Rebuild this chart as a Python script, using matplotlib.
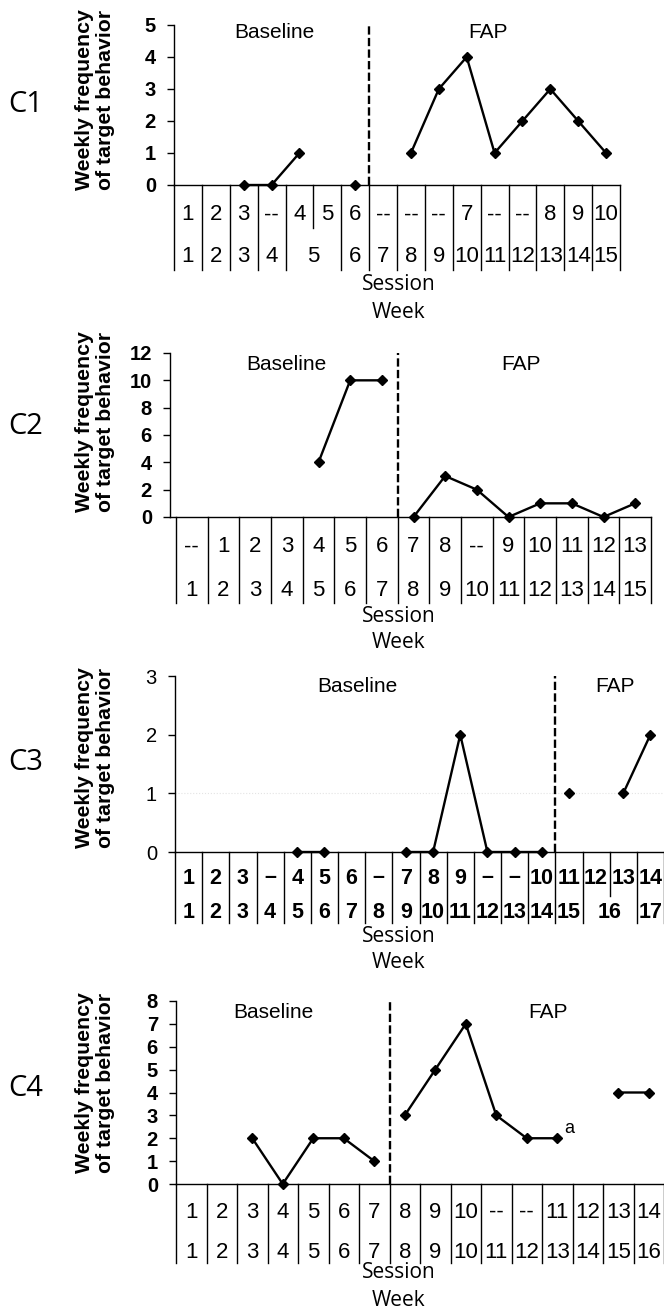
import numpy as np
import matplotlib
matplotlib.use('Agg')
import matplotlib.pyplot as plt

plt.rcParams['font.family'] = ['Liberation Sans', 'DejaVu Sans']

nan = np.nan

# ---- data ----
c1_session = ['1', '2', '3', '--', '4', '5', '6', '--', '--', '--', '7', '--', '--', '8', '9', '10']
c1_week = ['1', '2', '3', '4', '5', '6', '7', '8', '9', '10', '11', '12', '13', '14', '15']
c1_week_span = [1, 1, 1, 1, 2, 1, 1, 1, 1, 1, 1, 1, 1, 1, 1]
c1_baseline = [nan, nan, 0, 0, 1, nan, 0]
c1_fap = [nan, 1, 3, 4, 1, 2, 3, 2, 1]
c1_yticks = [0, 1, 2, 3, 4, 5]

c2_session = ['--', '1', '2', '3', '4', '5', '6', '7', '8', '--', '9', '10', '11', '12', '13']
c2_week = ['1', '2', '3', '4', '5', '6', '7', '8', '9', '10', '11', '12', '13', '14', '15']
c2_week_span = [1] * 15
c2_baseline = [nan, nan, nan, nan, 4, 10, 10]
c2_fap = [0, 3, 2, 0, 1, 1, 0, 1]
c2_yticks = [0, 2, 4, 6, 8, 10, 12]

c3_session = ['1', '2', '3', '–', '4', '5', '6', '–', '7', '8', '9', '–', '–', '10', '11', '12', '13', '14']
c3_week = ['1', '2', '3', '4', '5', '6', '7', '8', '9', '10', '11', '12', '13', '14', '15', '16', '17']
c3_week_span = [1] * 15 + [2, 1]
c3_baseline = [nan, nan, nan, nan, 0, 0, nan, nan, 0, 0, 2, 0, 0, 0]
c3_fap = [1, nan, 1, 2]
c3_yticks = [0, 1, 2, 3]

c4_session = ['1', '2', '3', '4', '5', '6', '7', '8', '9', '10', '--', '--', '11', '12', '13', '14']
c4_week = ['1', '2', '3', '4', '5', '6', '7', '8', '9', '10', '11', '12', '13', '14', '15', '16']
c4_week_span = [1] * 16
c4_baseline = [nan, nan, 2, 0, 2, 2, 1]
c4_fap = [3, 5, 7, 3, 2, 2, nan, 4, 4]
c4_yticks = [0, 1, 2, 3, 4, 5, 6, 7, 8]

W, H = 664, 1312
fig = plt.figure(figsize=(W / 100, H / 100), dpi=100)


def ftext(px, py, s, **kw):
    fig.text(px / W, 1 - py / H, s, **kw)


def draw_panel(tag, session, week, span, base, fap, yticks, g, bold_ticks=True, bold_table=False):
    ax = fig.add_axes([g['left'] / W, 1 - g['zero'] / H,
                       (g['right'] - g['left']) / W, (g['zero'] - g['top']) / H])
    n = len(session)
    ax.set_xlim(-g.get('xpad', 0), n)
    ax.set_ylim(0, yticks[-1])
    ax.set_yticks(yticks)
    ax.set_xticks([])
    for s in ['top', 'right']:
        ax.spines[s].set_visible(False)
    for s in ['left', 'bottom']:
        ax.spines[s].set_linewidth(1.0)
    ax.tick_params(axis='y', direction='out', length=5, width=1.0, pad=8, labelsize=14.5)
    if bold_ticks:
        for lbl in ax.get_yticklabels():
            lbl.set_fontweight('bold')

    def fy(py):
        return (g['zero'] - py) / (g['zero'] - g['top'])

    tr = ax.get_xaxis_transform()
    # table grid under the axis
    full = set(np.concatenate([[0], np.cumsum(span)]).tolist())
    for k in range(n + 1):
        yb = g['bottom'] if k in full else g['split']
        ax.plot([k, k], [0, fy(yb)], color='k', lw=1.0, transform=tr, clip_on=False)
    fw = 'bold' if bold_table else 'normal'
    tsize = g.get('tsize', 16)
    for i, s in enumerate(session):
        ax.text(i + 0.5, fy(g['row1']), s, transform=tr, ha='center', va='center',
                fontsize=tsize, fontweight=fw)
    start = 0
    for s, sp in zip(week, span):
        ax.text(start + sp / 2, fy(g['row2']), s, transform=tr, ha='center', va='center',
                fontsize=tsize, fontweight=fw)
        start += sp

    # data
    nb = len(base)
    xb = np.arange(nb) + 0.5
    xf = nb + np.arange(len(fap)) + 0.5
    ax.plot(xb, base, '-D', color='k', lw=1.7, ms=4.8, clip_on=False, zorder=5)
    ax.plot(xf, fap, '-D', color='k', lw=1.7, ms=4.8, clip_on=False, zorder=5)
    ax.axvline(nb, 0, 1, color='k', ls=(0, (3.5, 1.4)), lw=1.7)

    ax.text(g['base_x'], fy(g['head_y']), 'Baseline', transform=tr, ha='center', va='center', fontsize=15)
    ax.text(g['fap_x'], fy(g['head_y']), 'FAP', transform=tr, ha='center', va='center', fontsize=15)

    ftext(399, g['sess_y'], 'Session', ha='center', va='center', fontsize=15, family='Open Sans')
    ftext(399, g['week_y'], 'Week', ha='center', va='center', fontsize=15, family='Open Sans')
    ftext(26, g['mid'], tag, ha='center', va='center', fontsize=21, family='Open Sans')
    ftext(95, g['mid'] - 5, 'Weekly frequency\nof target behavior', ha='center', va='center',
          rotation=90, fontsize=15.3, fontweight='bold', linespacing=1.15)
    return ax


g1 = dict(left=174, right=620, top=25, zero=185, bottom=270, row1=215, row2=257, split=228,
          sess_y=285, week_y=313, mid=105, head_y=32, base_x=3.6, fap_x=11.25)
g2 = dict(left=170, right=651, top=353, zero=517, bottom=603, row1=547, row2=590, split=568,
          sess_y=616, week_y=643, mid=427, head_y=365, base_x=3.5, fap_x=10.9, xpad=0.19)
g3 = dict(left=175, right=664, top=676, zero=852, bottom=923, row1=878, row2=913, split=896,
          sess_y=936, week_y=963, mid=763, head_y=687, base_x=6.7, fap_x=16.2, tsize=15.5)
g4 = dict(left=176, right=664, top=1001, zero=1184, bottom=1263, row1=1212, row2=1252, split=1232,
          sess_y=1273, week_y=1301, mid=1088, head_y=1013, base_x=3.2, fap_x=12.2)

draw_panel('C1', c1_session, c1_week, c1_week_span, c1_baseline, c1_fap, c1_yticks, g1)
draw_panel('C2', c2_session, c2_week, c2_week_span, c2_baseline, c2_fap, c2_yticks, g2)
ax3 = draw_panel('C3', c3_session, c3_week, c3_week_span, c3_baseline, c3_fap, c3_yticks, g3,
                 bold_ticks=False, bold_table=True)
ax3.axhline(1, color='#e4e4e4', lw=0.8, ls=':', zorder=0)
ax4 = draw_panel('C4', c4_session, c4_week, c4_week_span, c4_baseline, c4_fap, c4_yticks, g4)
ax4.annotate('a', (len(c4_baseline) + 5.5, c4_fap[5]), xytext=(5, 7), textcoords='offset points',
             ha='left', va='center', fontsize=13)

fig.savefig('out.png', dpi=100)
